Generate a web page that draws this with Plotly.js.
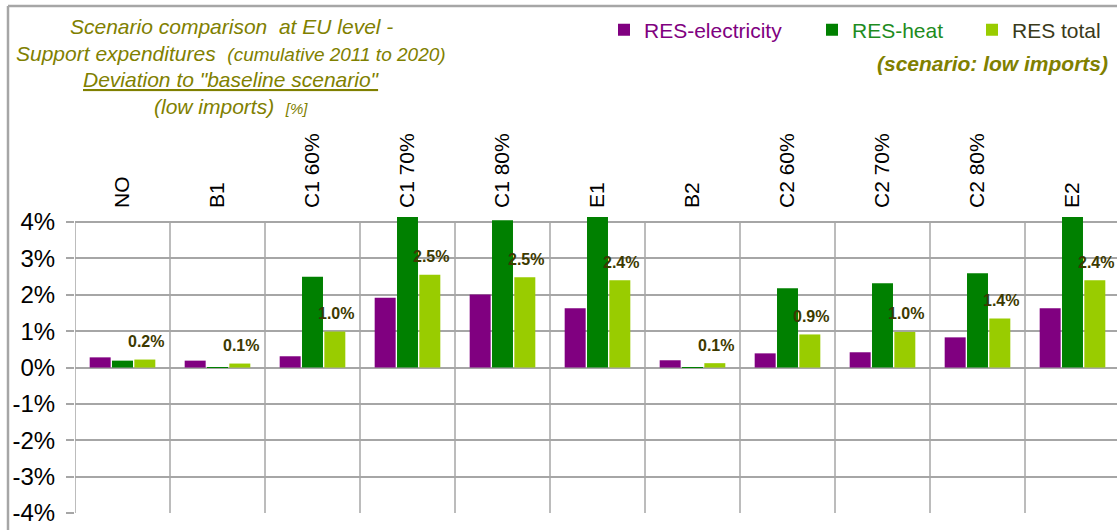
<!DOCTYPE html>
<html>
<head>
<meta charset="utf-8">
<script src="https://cdn.plot.ly/plotly-3.0.1.min.js"></script>
<style>html,body{margin:0;padding:0;background:#fff;}#chart{width:1117px;height:530px;}</style>
</head>
<body>
<div id="chart"></div>
<script>
// ---- data (% deviation to baseline) ----
const categories = ["NO", "B1", "C1 60%", "C1 70%", "C1 80%", "E1", "B2", "C2 60%", "C2 70%", "C2 80%", "E2"];
const resElectricity = [0.28, 0.19, 0.31, 1.92, 2.01, 1.63, 0.20, 0.39, 0.42, 0.83, 1.63];
// values for C1 70%, E1 and E2 run off the top of the scale in the reference (estimated)
const resHeat = [0.19, 0.01, 2.50, 4.60, 4.05, 4.60, 0.01, 2.18, 2.32, 2.59, 4.60];
const resTotal = [0.22, 0.11, 0.99, 2.55, 2.48, 2.40, 0.12, 0.91, 0.98, 1.35, 2.40];
const totalLabels = ["0.2%", "0.1%", "1.0%", "2.5%", "2.5%", "2.4%", "0.1%", "0.9%", "1.0%", "1.4%", "2.4%"];
const yTickVals = [-4, -3, -2, -1, 0, 1, 2, 3, 4];
const yTickText = ["-4%", "-3%", "-2%", "-1%", "0%", "1%", "2%", "3%", "4%"];

// ---- geometry ----
const W = 1117, H = 530;
const ML = 75, MR = 0, MT = 217, MB = 17;
const PW = W - ML - MR, PH = H - MT - MB;
const px = x => (x - ML) / PW;           // pixel -> paper x
const py = y => (H - MB - y) / PH;       // pixel -> paper y
const FONT = "Liberation Sans, Arial, Helvetica, sans-serif";
const GRID = "#a6a6a6";
const OLIVE = "#808000";

const traces = [
  {type: "bar", name: "RES-electricity", x: categories, y: resElectricity,
   marker: {color: "#800080"}, legend: "legend", hoverinfo: "x+y"},
  {type: "bar", name: "RES-heat", x: categories, y: resHeat,
   marker: {color: "#008000"}, legend: "legend2", hoverinfo: "x+y"},
  {type: "bar", name: "RES total", x: categories, y: resTotal,
   marker: {color: "#99cc00"}, legend: "legend3", hoverinfo: "x+y"}
];

// vertical category separators (from -4% to 4%)
const shapes = [];
for (let k = 0; k <= categories.length; k++) {
  shapes.push({type: "line", xref: "x", yref: "y", x0: k - 0.5, x1: k - 0.5, y0: -4, y1: 4,
               line: {color: GRID, width: 1.5}, layer: "below"});
}
// outer chart frame (top and left edges)
shapes.push({type: "line", xref: "paper", yref: "paper", x0: px(8), x1: px(W), y0: py(6), y1: py(6),
             line: {color: GRID, width: 2.5}, layer: "above"});
shapes.push({type: "line", xref: "paper", yref: "paper", x0: px(8), x1: px(8), y0: py(6), y1: py(H + 2),
             line: {color: GRID, width: 2.5}, layer: "above"});

const annotations = [];
// data labels over the "RES total" bars
categories.forEach((c, i) => {
  annotations.push({xref: "x", yref: "y", x: c, y: resTotal[i], text: "<b>" + totalLabels[i] + "</b>",
    showarrow: false, xanchor: "center", yanchor: "middle", xshift: 23, yshift: 18,
    font: {family: FONT, size: 16, color: "#3d3a00"}});
});
// title block
const titleLines = [
  {t: "Scenario comparison&nbsp; at EU level -", y: 26},
  {t: "Support expenditures&nbsp; <span style='font-size:19px'>(cumulative 2011 to 2020)</span>", y: 53},
  {t: "Deviation to \"baseline scenario\"", y: 79, u: true},
  {t: "(low imports)&nbsp; <span style='font-size:15px'>[%]</span>", y: 106}
];
titleLines.forEach(l => {
  annotations.push({xref: "paper", yref: "paper", x: px(231), y: py(l.y), text: l.t,
    showarrow: false, xanchor: "center", yanchor: "middle",
    font: {family: FONT, size: 21, color: OLIVE, style: "italic", lineposition: l.u ? "under" : "none"}});
});
annotations.push({xref: "paper", yref: "paper", x: px(1110), y: py(63), text: "(scenario: low imports)",
  showarrow: false, xanchor: "right", yanchor: "middle",
  font: {family: FONT, size: 21, color: OLIVE, style: "italic", weight: "bold"}});

const legendBase = {xref: "container", yref: "container", xanchor: "left", yanchor: "middle",
  y: 1 - 30 / H, orientation: "h", bgcolor: "rgba(0,0,0,0)", borderwidth: 0};

const layout = {
  width: W, height: H,
  margin: {l: ML, r: MR, t: MT, b: MB, pad: 0},
  paper_bgcolor: "#ffffff", plot_bgcolor: "#ffffff",
  font: {family: FONT, color: "#000000"},
  barmode: "group", bargap: 0.295, bargroupgap: 0.06,
  xaxis: {type: "category", side: "top", range: [-0.5, -0.5 + PW / 95],
    showgrid: false, zeroline: false, showline: false,
    ticks: "", tickangle: -90, ticklabelstandoff: 8,
    tickfont: {family: FONT, size: 21, color: "#000000"}},
  yaxis: {range: [-4, 4.14], tickvals: yTickVals, ticktext: yTickText,
    showgrid: true, gridcolor: GRID, gridwidth: 1.5,
    zeroline: true, zerolinecolor: GRID, zerolinewidth: 2,
    showline: false, ticks: "outside", ticklen: 8, tickcolor: GRID, tickwidth: 1.5,
    ticklabelstandoff: 6,
    tickfont: {family: FONT, size: 24, color: "#000000"}},
  showlegend: true,
  legend: Object.assign({}, legendBase, {x: 604 / W, font: {family: FONT, size: 21, color: "#800080"}}),
  legend2: Object.assign({}, legendBase, {x: 812 / W, font: {family: FONT, size: 21, color: "#1e8c1e"}}),
  legend3: Object.assign({}, legendBase, {x: 972 / W, font: {family: FONT, size: 21, color: "#3a3a1a"}}),
  shapes: shapes,
  annotations: annotations
};

Plotly.newPlot("chart", traces, layout, {displayModeBar: false, responsive: false});
</script>
</body>
</html>
